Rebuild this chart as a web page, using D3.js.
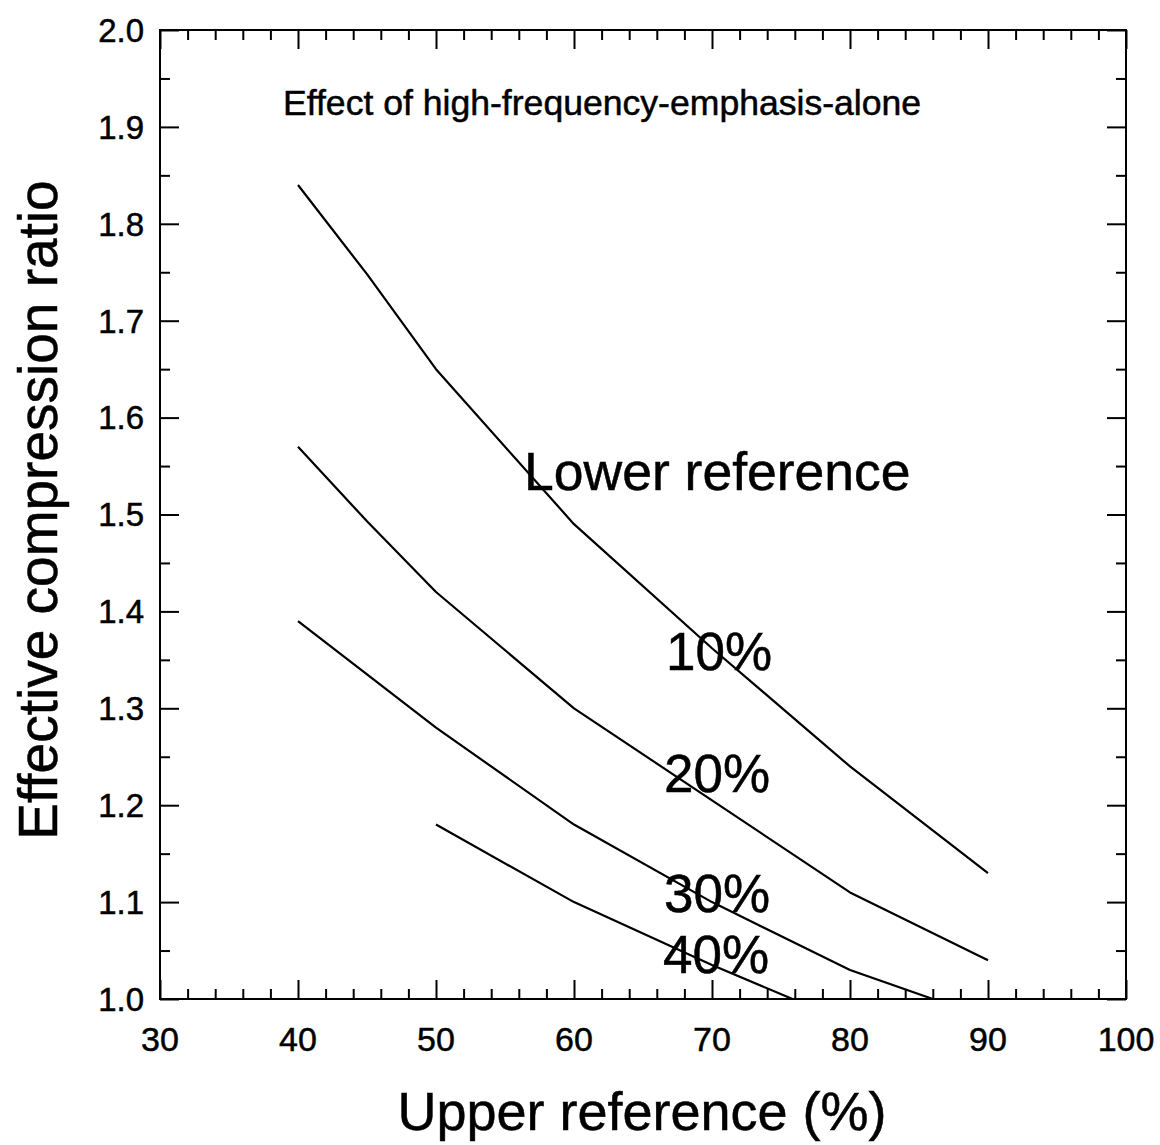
<!DOCTYPE html>
<html>
<head>
<meta charset="utf-8">
<script src="https://cdn.jsdelivr.net/npm/d3@7"></script>
<style>
  html, body { margin: 0; padding: 0; background: #fff; }
  svg { display: block; font-family: "Liberation Sans", Arial, sans-serif; }
  svg text { fill: #000; stroke: #000; stroke-width: 0.5px; }
</style>
</head>
<body>
<svg id="chart" width="1160" height="1145"></svg>
<script>
// Upper reference (%) sample points
const upperRef = [40, 45, 50, 60, 70, 80, 90];
const upperRef40 = [50, 60, 70, 80];

// Effective compression ratio for each lower-reference level
const ratio10 = [1.84, 1.748, 1.65, 1.49, 1.362, 1.24, 1.13];
const ratio20 = [1.57, 1.493, 1.42, 1.30, 1.205, 1.11, 1.04];
const ratio30 = [1.39, 1.335, 1.28, 1.18, 1.10, 1.03, 0.98];
const ratio40 = [1.18, 1.10, 1.035, 0.975];

const seriesLabels = ["10%", "20%", "30%", "40%"];
const xTickValues = [30, 40, 50, 60, 70, 80, 90, 100];
const yTickValues = [1.0, 1.1, 1.2, 1.3, 1.4, 1.5, 1.6, 1.7, 1.8, 1.9, 2.0];

const titleText = "Effect of high-frequency-emphasis-alone";
const groupTitle = "Lower reference";
const xTitle = "Upper reference (%)";
const yTitle = "Effective compression ratio";

const series = [
  { label: seriesLabels[0], xs: upperRef, ys: ratio10 },
  { label: seriesLabels[1], xs: upperRef, ys: ratio20 },
  { label: seriesLabels[2], xs: upperRef, ys: ratio30 },
  { label: seriesLabels[3], xs: upperRef40, ys: ratio40 }
];

const margin = { left: 160, top: 30, right: 34, bottom: 146 };
const W = 1160, H = 1145;
const iw = W - margin.left - margin.right;
const ih = H - margin.top - margin.bottom;

const svg = d3.select("#chart");
const g = svg.append("g").attr("transform", `translate(${margin.left},${margin.top})`);

const x = d3.scaleLinear().domain([30, 100]).range([0, iw]);
const y = d3.scaleLinear().domain([1.0, 2.0]).range([ih, 0]);

svg.append("defs").append("clipPath").attr("id", "plotClip")
  .append("rect").attr("x", 0).attr("y", 0).attr("width", iw).attr("height", ih);

// Inward-pointing ticks on all four sides
const xMinor = d3.range(30, 100.01, 2).filter(v => v % 10 !== 0);
const yMinor = d3.range(1.05, 2.0, 0.1);
const major = 19, minor = 10;

function tickAxis(axisFn, scale, values, len) {
  return axisFn(scale).tickValues(values).tickSize(len).tickFormat("");
}

const axes = [
  { a: tickAxis(d3.axisTop, x, xTickValues, major), t: `translate(0,${ih})` },
  { a: tickAxis(d3.axisTop, x, xMinor, minor), t: `translate(0,${ih})` },
  { a: tickAxis(d3.axisBottom, x, xTickValues, major), t: `translate(0,0)` },
  { a: tickAxis(d3.axisBottom, x, xMinor, minor), t: `translate(0,0)` },
  { a: tickAxis(d3.axisRight, y, yTickValues, major), t: `translate(0,0)` },
  { a: tickAxis(d3.axisRight, y, yMinor, minor), t: `translate(0,0)` },
  { a: tickAxis(d3.axisLeft, y, yTickValues, major), t: `translate(${iw},0)` },
  { a: tickAxis(d3.axisLeft, y, yMinor, minor), t: `translate(${iw},0)` }
];
axes.forEach(d => {
  const ax = g.append("g").attr("transform", d.t).call(d.a);
  ax.select(".domain").remove();
  ax.selectAll("line").attr("stroke", "#000").attr("stroke-width", 2);
});

// Frame
g.append("rect").attr("x", 0).attr("y", 0).attr("width", iw).attr("height", ih)
  .attr("fill", "none").attr("stroke", "#000").attr("stroke-width", 2);

// Tick labels
g.selectAll(".xl").data(xTickValues).enter().append("text")
  .attr("x", d => x(d)).attr("y", ih + 52)
  .attr("text-anchor", "middle").attr("font-size", 34).text(d => d);

g.selectAll(".yl").data(yTickValues).enter().append("text")
  .attr("x", -16).attr("y", d => y(d)).attr("dy", "0.36em")
  .attr("text-anchor", "end").attr("font-size", 33).text(d => d.toFixed(1));

// Curves
const line = d3.line().x(d => x(d[0])).y(d => y(d[1]));
const curves = g.append("g").attr("clip-path", "url(#plotClip)");
series.forEach(s => {
  curves.append("path")
    .datum(s.xs.map((v, i) => [v, s.ys[i]]))
    .attr("d", line).attr("fill", "none")
    .attr("stroke", "#000").attr("stroke-width", 2.2)
    .attr("stroke-linejoin", "round");
});

// In-plot annotations
g.append("text").attr("x", x(30) + 123).attr("y", y(2.0) + 85)
  .attr("font-size", 35.6).text(titleText);
g.append("text").attr("x", 364).attr("y", 460)
  .attr("font-size", 53.5).text(groupTitle);
const labelBaselines = [640, 762, 882, 943];
const labelLefts = [506, 504, 504, 503];
seriesLabels.forEach((t, i) => {
  g.append("text").attr("x", labelLefts[i]).attr("y", labelBaselines[i])
    .attr("font-size", 53).text(t);
});

// Axis titles
svg.append("text").attr("x", margin.left + iw / 2 - 1).attr("y", 1130)
  .attr("text-anchor", "middle").attr("font-size", 54).text(xTitle);
svg.append("text")
  .attr("transform", `translate(57,${510}) rotate(-90)`)
  .attr("text-anchor", "middle").attr("font-size", 55).text(yTitle);
</script>
</body>
</html>
